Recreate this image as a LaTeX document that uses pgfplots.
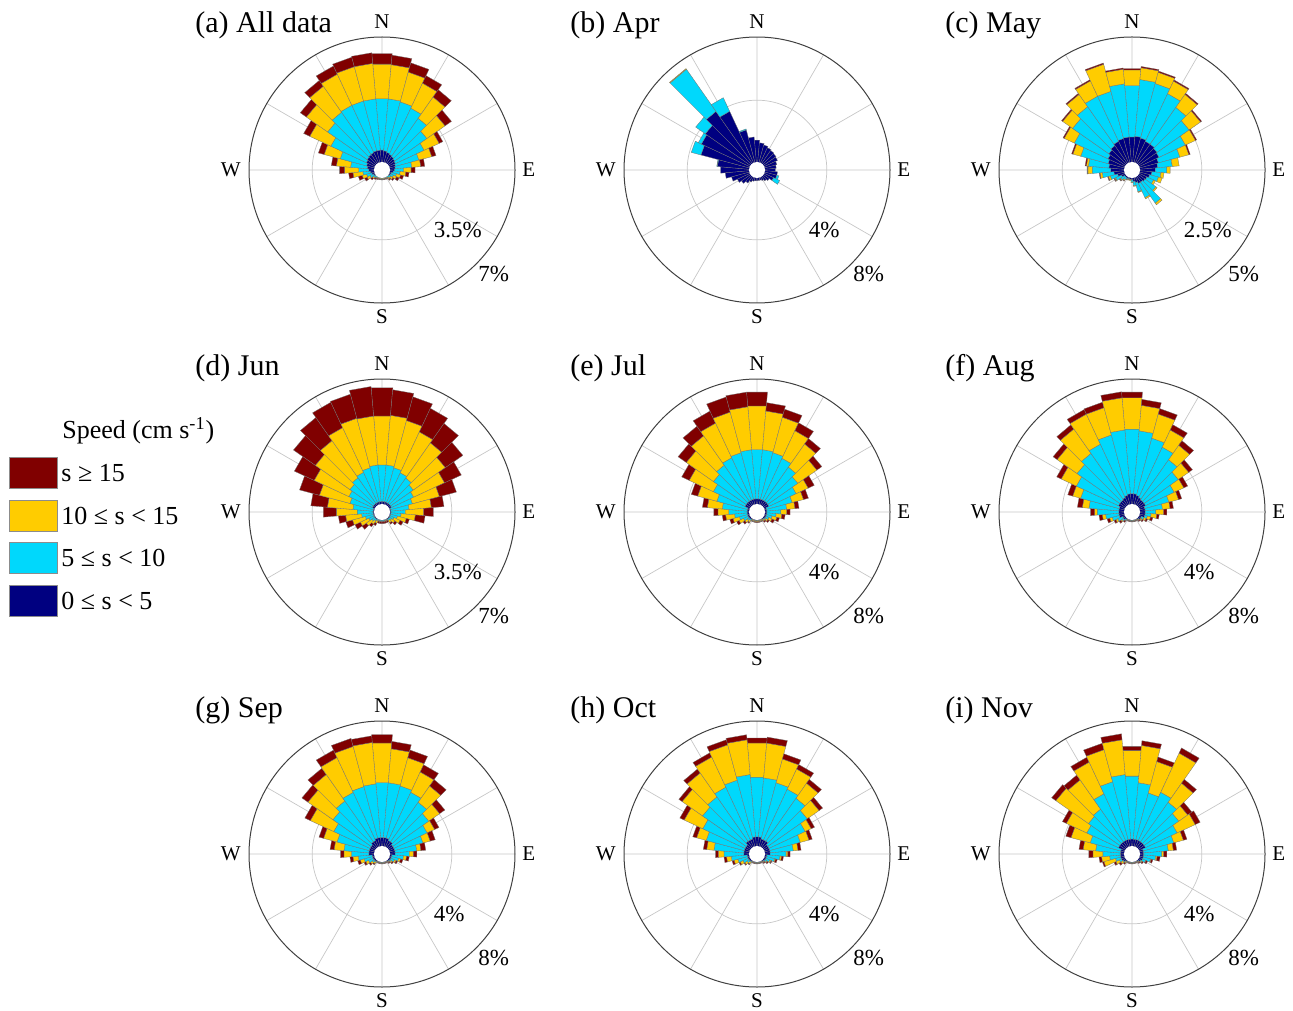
\documentclass[border=0pt]{standalone}
\usepackage{fontspec}
\setmainfont{Liberation Serif}
\usepackage{pgfplots}
\usepackage{pgfplotstable}
\pgfplotsset{compat=1.18}
\usepgfplotslibrary{polar}

\definecolor{cred}{RGB}{128,0,0}
\definecolor{cgold}{RGB}{255,204,0}
\definecolor{ccyan}{RGB}{0,216,252}
\definecolor{cnavy}{RGB}{0,0,128}

% columns: direction (deg from N, clockwise), cumulative % : n = 0-5, c = 5-10, g = 10-15, r = >=15
\pgfplotstableread{
d n c g r
0 0.74 3.59 5.52 6.11
10 0.70 3.59 5.49 6.02
20 0.64 3.54 5.25 5.78
30 0.59 3.41 4.94 5.40
40 0.55 3.13 4.57 5.06
50 0.50 2.67 3.90 4.33
60 0.46 2.21 3.13 3.35
70 0.41 1.75 2.49 2.73
80 0.37 1.29 1.79 2.01
90 0.33 0.83 1.25 1.47
100 0.26 0.64 0.96 1.14
110 0.18 0.46 0.70 0.87
120 0.15 0.33 0.52 0.68
130 0.10 0.24 0.37 0.46
140 0.08 0.18 0.26 0.33
150 0.07 0.12 0.16 0.20
160 0.07 0.11 0.15 0.18
170 0.07 0.11 0.15 0.18
180 0.07 0.11 0.15 0.18
190 0.07 0.11 0.15 0.18
200 0.07 0.11 0.15 0.19
210 0.07 0.12 0.16 0.22
220 0.08 0.15 0.20 0.28
230 0.10 0.22 0.30 0.41
240 0.15 0.37 0.55 0.70
250 0.22 0.52 0.77 0.99
260 0.29 0.70 1.25 1.49
270 0.37 0.92 1.71 1.99
280 0.46 1.38 2.17 2.45
290 0.52 2.03 2.95 3.28
300 0.59 2.76 4.05 4.42
310 0.64 3.31 4.75 5.16
320 0.68 3.54 5.30 5.69
330 0.70 3.59 5.49 5.99
340 0.74 3.59 5.56 6.10
350 0.74 3.59 5.56 6.15
}\tA

\pgfplotstableread{
d n c g r
0 1.47 1.47 1.47 1.47
10 1.31 1.31 1.31 1.31
20 1.22 1.22 1.22 1.22
30 1.14 1.14 1.14 1.14
40 1.09 1.09 1.09 1.09
50 1.05 1.05 1.05 1.05
60 1.01 1.01 1.01 1.01
70 0.88 0.88 0.88 0.88
80 0.80 0.80 0.80 0.80
90 0.74 0.74 0.74 0.74
100 0.88 0.88 0.88 0.88
110 0.88 1.01 1.01 1.01
120 0.74 1.16 1.16 1.16
130 0.53 0.53 0.53 0.53
140 0.42 0.42 0.42 0.42
150 0.32 0.32 0.32 0.32
160 0.25 0.25 0.25 0.25
170 0.25 0.25 0.25 0.25
180 0.25 0.25 0.25 0.25
190 0.27 0.27 0.27 0.27
200 0.32 0.32 0.32 0.32
210 0.42 0.42 0.42 0.42
220 0.59 0.59 0.59 0.59
230 0.78 0.78 0.78 0.78
240 0.95 0.95 0.95 0.95
250 1.25 1.25 1.25 1.25
260 1.60 1.60 1.60 1.60
270 1.89 1.89 1.89 1.89
280 2.10 2.14 2.14 2.14
290 3.26 3.89 3.89 3.89
300 3.47 3.68 3.68 3.68
310 3.58 4.32 4.32 4.32
320 4.11 7.37 7.42 7.42
330 3.68 4.63 4.63 4.63
340 2.21 2.27 2.27 2.27
350 1.68 1.68 1.68 1.68
}\tB

\pgfplotstableread{
d n c g r
0 1.05 3.09 3.71 3.76
10 1.08 3.33 3.80 3.85
20 1.05 3.28 3.74 3.79
30 0.99 3.07 3.62 3.67
40 0.99 2.76 3.39 3.44
50 0.95 2.50 3.05 3.10
60 0.92 2.07 2.51 2.56
70 0.82 1.70 2.07 2.12
80 0.76 1.34 1.61 1.61
90 0.66 1.12 1.25 1.25
100 0.53 0.89 1.01 1.01
110 0.46 0.82 0.97 0.97
120 0.39 0.68 0.76 0.76
130 0.37 0.89 0.95 0.95
140 0.33 1.34 1.42 1.42
150 0.33 0.95 1.00 1.00
160 0.26 0.63 0.66 0.66
170 0.20 0.37 0.39 0.39
180 0.13 0.21 0.24 0.24
190 0.11 0.13 0.16 0.16
200 0.11 0.13 0.16 0.16
210 0.11 0.16 0.18 0.18
220 0.11 0.21 0.26 0.28
230 0.11 0.29 0.33 0.36
240 0.20 0.46 0.50 0.53
250 0.33 0.63 0.71 0.74
260 0.46 0.92 1.01 1.04
270 0.59 1.32 1.49 1.52
280 0.66 1.47 1.55 1.60
290 0.72 1.84 2.16 2.21
300 0.79 2.26 2.70 2.75
310 0.86 2.61 3.09 3.14
320 0.92 2.80 3.39 3.44
330 0.99 2.96 3.63 3.68
340 1.03 2.96 4.07 4.12
350 1.05 3.16 3.74 3.79
}\tC

\pgfplotstableread{
d n c g r
0 0.22 2.25 4.97 6.54
10 0.22 2.25 5.01 6.43
20 0.22 2.17 4.88 6.24
30 0.22 2.03 4.53 5.97
40 0.22 1.93 4.31 5.62
50 0.22 1.75 3.92 5.10
60 0.22 1.57 3.46 4.48
70 0.13 1.38 2.93 3.90
80 0.13 1.14 2.38 3.08
90 0.13 0.92 1.95 2.49
100 0.13 0.70 1.49 2.03
110 0.13 0.52 1.03 1.20
120 0.13 0.37 0.74 0.92
130 0.13 0.28 0.50 0.64
140 0.13 0.22 0.37 0.46
150 0.10 0.15 0.18 0.28
160 0.10 0.15 0.18 0.28
170 0.10 0.15 0.18 0.28
180 0.10 0.15 0.18 0.28
190 0.10 0.15 0.18 0.28
200 0.10 0.15 0.18 0.28
210 0.10 0.18 0.33 0.46
220 0.13 0.24 0.46 0.64
230 0.13 0.33 0.70 0.99
240 0.13 0.44 0.96 1.29
250 0.13 0.59 1.33 1.71
260 0.13 0.77 1.66 2.06
270 0.13 1.01 2.17 2.89
280 0.13 1.25 2.67 3.59
290 0.13 1.47 3.22 4.36
300 0.22 1.66 3.78 4.99
310 0.22 1.80 4.14 5.62
320 0.22 1.95 4.46 6.02
330 0.22 2.06 4.79 6.34
340 0.22 2.17 5.01 6.39
350 0.22 2.25 4.97 6.61
}\tD

\pgfplotstableread{
d n c g r
0 0.42 3.54 6.32 7.20
10 0.42 3.54 6.00 6.53
20 0.42 3.47 5.79 6.32
30 0.42 3.33 5.26 5.81
40 0.42 3.05 4.84 5.26
50 0.42 2.74 4.21 4.59
60 0.42 2.32 3.16 3.58
70 0.21 1.89 2.63 2.95
80 0.21 1.47 2.00 2.25
90 0.21 1.09 1.47 1.68
100 0.21 0.80 1.16 1.37
110 0.21 0.57 0.88 1.05
120 0.21 0.42 0.63 0.80
130 0.21 0.29 0.42 0.53
140 0.15 0.21 0.29 0.38
150 0.12 0.15 0.21 0.25
160 0.12 0.15 0.21 0.25
170 0.12 0.15 0.21 0.25
180 0.12 0.15 0.21 0.25
190 0.12 0.15 0.21 0.25
200 0.12 0.15 0.21 0.25
210 0.12 0.15 0.21 0.25
220 0.15 0.25 0.38 0.46
230 0.21 0.34 0.53 0.67
240 0.21 0.53 0.84 1.01
250 0.21 0.74 1.16 1.37
260 0.21 1.01 1.58 1.79
270 0.21 1.37 2.06 2.32
280 0.21 1.79 2.74 3.05
290 0.21 2.21 3.47 3.89
300 0.42 2.63 4.32 4.84
310 0.42 2.95 5.05 5.68
320 0.42 3.20 5.47 6.21
330 0.42 3.37 5.79 6.63
340 0.42 3.47 6.13 7.12
350 0.42 3.54 6.27 7.20
}\tE

\pgfplotstableread{
d n c g r
0 0.74 4.84 6.84 7.20
10 0.74 4.74 6.36 6.74
20 0.67 4.42 6.00 6.36
30 0.59 4.11 5.31 5.68
40 0.53 3.62 4.74 5.09
50 0.53 3.16 3.96 4.25
60 0.53 2.53 3.20 3.47
70 0.42 2.00 2.63 2.84
80 0.42 1.52 2.00 2.21
90 0.42 1.09 1.58 1.79
100 0.42 0.80 1.16 1.31
110 0.42 0.59 0.80 0.95
120 0.25 0.42 0.57 0.67
130 0.25 0.29 0.38 0.46
140 0.15 0.21 0.25 0.32
150 0.12 0.15 0.17 0.21
160 0.12 0.15 0.17 0.21
170 0.12 0.15 0.17 0.21
180 0.12 0.15 0.17 0.21
190 0.12 0.15 0.17 0.21
200 0.12 0.15 0.17 0.21
210 0.12 0.15 0.17 0.21
220 0.15 0.25 0.29 0.38
230 0.25 0.38 0.46 0.59
240 0.25 0.59 0.72 0.84
250 0.42 0.88 1.05 1.22
260 0.42 1.26 1.47 1.68
270 0.42 1.79 1.96 2.21
280 0.42 2.32 2.74 3.05
290 0.42 2.95 3.47 3.79
300 0.53 3.47 4.53 4.84
310 0.53 3.83 5.37 5.68
320 0.53 4.11 6.00 6.32
330 0.59 4.32 6.42 6.74
340 0.67 4.63 6.42 6.78
350 0.74 4.80 6.84 7.22
}\tF

\pgfplotstableread{
d n c g r
0 0.63 4.11 6.63 7.16
10 0.63 4.11 6.27 6.74
20 0.63 4.04 5.89 6.40
30 0.53 3.89 5.31 5.81
40 0.53 3.58 4.84 5.33
50 0.42 3.20 4.04 4.44
60 0.42 2.74 3.26 3.56
70 0.42 2.27 2.74 3.07
80 0.42 1.79 2.06 2.36
90 0.42 1.31 1.58 1.79
100 0.21 0.95 1.14 1.31
110 0.21 0.67 0.80 0.95
120 0.21 0.46 0.57 0.67
130 0.21 0.29 0.38 0.46
140 0.15 0.21 0.25 0.32
150 0.12 0.15 0.17 0.21
160 0.12 0.15 0.17 0.21
170 0.12 0.15 0.17 0.21
180 0.12 0.15 0.17 0.21
190 0.12 0.15 0.17 0.21
200 0.12 0.15 0.17 0.21
210 0.12 0.15 0.17 0.21
220 0.15 0.23 0.34 0.42
230 0.21 0.34 0.48 0.59
240 0.21 0.53 0.72 0.84
250 0.21 0.76 1.01 1.18
260 0.21 1.09 1.43 1.62
270 0.42 1.52 2.00 2.21
280 0.42 2.00 2.63 2.88
290 0.42 2.53 3.41 3.71
300 0.42 2.95 4.59 4.97
310 0.42 3.37 5.31 5.77
320 0.53 3.68 5.73 6.21
330 0.53 3.89 6.32 6.84
340 0.63 4.00 6.63 7.16
350 0.63 4.04 6.67 7.09
}\tG

\pgfplotstableread{
d n c g r
0 0.67 4.46 6.63 6.95
10 0.67 4.42 6.63 7.01
20 0.57 4.25 5.81 6.15
30 0.57 4.11 5.52 5.83
40 0.57 3.89 5.05 5.35
50 0.42 3.47 4.38 4.65
60 0.42 2.95 3.37 3.60
70 0.42 2.42 2.99 3.20
80 0.42 1.89 2.19 2.38
90 0.42 1.43 1.54 1.68
100 0.21 1.05 1.14 1.26
110 0.21 0.74 0.80 0.91
120 0.21 0.48 0.57 0.63
130 0.21 0.32 0.38 0.46
140 0.15 0.21 0.25 0.32
150 0.12 0.15 0.17 0.21
160 0.12 0.15 0.17 0.21
170 0.12 0.15 0.17 0.21
180 0.12 0.15 0.17 0.21
190 0.12 0.15 0.17 0.21
200 0.12 0.15 0.17 0.21
210 0.12 0.15 0.17 0.21
220 0.15 0.23 0.36 0.42
230 0.21 0.36 0.53 0.59
240 0.21 0.57 0.76 0.84
250 0.21 0.84 1.09 1.22
260 0.21 1.22 1.52 1.68
270 0.42 1.68 2.04 2.21
280 0.42 2.32 2.78 2.99
290 0.42 2.91 3.54 3.79
300 0.42 3.37 4.67 4.97
310 0.42 3.79 5.37 5.62
320 0.57 4.00 5.85 6.15
330 0.57 4.25 6.36 6.65
340 0.57 4.42 6.74 7.07
350 0.67 4.63 6.84 7.16
}\tH

\pgfplotstableread{
d n c g r
0 0.53 4.53 6.15 6.42
10 0.53 4.11 6.48 6.78
20 0.53 3.58 5.64 5.94
30 0.53 3.89 6.63 6.99
40 0.53 3.58 5.05 5.35
50 0.53 3.20 3.89 4.21
60 0.53 2.74 4.00 4.34
70 0.32 2.32 2.95 3.18
80 0.32 1.89 2.21 2.42
90 0.32 1.47 1.58 1.79
100 0.32 1.09 1.18 1.37
110 0.32 0.80 0.85 0.95
120 0.32 0.53 0.57 0.67
130 0.25 0.32 0.38 0.46
140 0.15 0.21 0.25 0.32
150 0.12 0.15 0.17 0.21
160 0.12 0.15 0.17 0.21
170 0.12 0.15 0.17 0.21
180 0.12 0.15 0.17 0.21
190 0.12 0.15 0.17 0.21
200 0.12 0.15 0.17 0.21
210 0.12 0.15 0.17 0.21
220 0.15 0.21 0.29 0.38
230 0.25 0.32 0.46 0.59
240 0.32 0.46 0.72 0.84
250 0.32 0.67 1.43 1.52
260 0.32 1.01 1.52 1.68
270 0.32 1.43 2.06 2.32
280 0.32 1.89 2.69 2.95
290 0.32 2.32 3.58 3.92
300 0.53 2.74 4.17 4.44
310 0.53 2.95 5.47 5.79
320 0.53 3.05 5.31 5.68
330 0.53 3.79 6.00 6.34
340 0.53 4.32 6.42 6.84
350 0.53 4.63 6.84 7.22
}\tI

\tikzset{
  lab/.style={font=\fontsize{10.5}{12}\selectfont, inner sep=0pt},
  pct/.style={font=\fontsize{11.5}{13}\selectfont, inner sep=1pt, anchor=north west},
  ttl/.style={font=\fontsize{15}{18}\selectfont, inner sep=0pt, anchor=base west},
  legtxt/.style={font=\fontsize{13}{15}\selectfont, inner sep=0pt, anchor=base west},
  legbox/.style={draw=black!45, line width=0.3pt},
}
\pgfplotsset{
  rw/.style={draw=black!55, line width=0.15pt, forget plot},
  rose/.style={
    scale only axis, width=133pt, height=133pt, anchor=center,
    ymin=0, xtick={0,30,...,330}, xticklabels={}, yticklabels={},
    grid=major, major grid style={draw=black!22, line width=0.35pt},
    axis line style={draw=black!75, line width=0.5pt},
    y axis line style={draw=none},
    major tick length=0pt, clip=false,
  },
}

\newcommand{\rosewedge}[3]{%
  \pgfmathtruncatemacro{\wflag}{(#3-#2)>0.004}%
  \ifnum\wflag=1
    \edef\wtmp{\noexpand\addplot[rw,fill=#1] coordinates {(\aL,#2) (\aL,#3) (\aR,#3) (\aR,#2)} -- cycle;}%
    \wtmp
  \fi}

\newcommand{\drawrose}[2]{%
  \pgfplotsforeachungrouped \i in {0,1,...,35}{%
    \pgfplotstablegetelem{\i}{d}\of{#1}\let\rdir\pgfplotsretval
    \pgfplotstablegetelem{\i}{n}\of{#1}\let\rvn\pgfplotsretval
    \pgfplotstablegetelem{\i}{c}\of{#1}\let\rvc\pgfplotsretval
    \pgfplotstablegetelem{\i}{g}\of{#1}\let\rvg\pgfplotsretval
    \pgfplotstablegetelem{\i}{r}\of{#1}\let\rvr\pgfplotsretval
    \pgfmathsetmacro{\aL}{95-\rdir}%
    \pgfmathsetmacro{\aR}{85-\rdir}%
    \pgfmathsetmacro{\rz}{#2}%
    \pgfmathsetmacro{\rn}{#2+\rvn}%
    \pgfmathsetmacro{\rc}{#2+\rvc}%
    \pgfmathsetmacro{\rg}{#2+\rvg}%
    \pgfmathsetmacro{\rr}{#2+\rvr}%
    \rosewedge{cnavy}{\rz}{\rn}%
    \rosewedge{ccyan}{\rn}{\rc}%
    \rosewedge{cgold}{\rc}{\rg}%
    \rosewedge{cred}{\rg}{\rr}%
  }}

% #1 cx, #2 cy, #3 table, #4 ymax, #5 inner ring, #6 offset, #7 inner label, #8 outer label
\newcommand{\rosepanel}[8]{%
\begin{polaraxis}[rose, at={(#1,#2)}, ymax=#4, ytick={#5}]
  \drawrose{#3}{#6}
  \fill[white] (axis cs:0,0) circle[radius=4pt];
  \node[lab,anchor=south,yshift=4pt] at (axis cs:90,#4) {N};
  \node[lab,anchor=north,yshift=-3pt] at (axis cs:270,#4) {S};
  \node[lab,anchor=east,xshift=-4pt] at (axis cs:180,#4) {W};
  \node[lab,anchor=west,xshift=3.5pt] at (axis cs:0,#4) {E};
  \node[pct] at (axis cs:-45,#5) {#7};
  \node[pct] at (axis cs:-45,#4) {#8};
\end{polaraxis}}

\begin{document}
\begin{tikzpicture}
\path[use as bounding box] (0pt,0pt) rectangle (646.5pt,-505pt);

\rosepanel{191pt}{-85pt}{\tA}{7.368}{3.868}{0.368}{3.5\%}{7\%}
\rosepanel{378.5pt}{-85pt}{\tB}{8.421}{4.421}{0.421}{4\%}{8\%}
\rosepanel{566pt}{-85pt}{\tC}{5.263}{2.763}{0.263}{2.5\%}{5\%}

\rosepanel{191pt}{-256pt}{\tD}{7.368}{3.868}{0.368}{3.5\%}{7\%}
\rosepanel{378.5pt}{-256pt}{\tE}{8.421}{4.421}{0.421}{4\%}{8\%}
\rosepanel{566pt}{-256pt}{\tF}{8.421}{4.421}{0.421}{4\%}{8\%}

\rosepanel{191pt}{-427pt}{\tG}{8.421}{4.421}{0.421}{4\%}{8\%}
\rosepanel{378.5pt}{-427pt}{\tH}{8.421}{4.421}{0.421}{4\%}{8\%}
\rosepanel{566pt}{-427pt}{\tI}{8.421}{4.421}{0.421}{4\%}{8\%}

\node[ttl] at (97.5pt,-16.5pt) {(a) All data};
\node[ttl] at (285pt,-16.5pt) {(b) Apr};
\node[ttl] at (472.5pt,-16.5pt) {(c) May};
\node[ttl] at (97.5pt,-187.5pt) {(d) Jun};
\node[ttl] at (285pt,-187.5pt) {(e) Jul};
\node[ttl] at (472.5pt,-187.5pt) {(f) Aug};
\node[ttl] at (97.5pt,-358.5pt) {(g) Sep};
\node[ttl] at (285pt,-358.5pt) {(h) Oct};
\node[ttl] at (472.5pt,-358.5pt) {(i) Nov};

% legend
\node[legtxt] at (31pt,-219pt) {Speed (cm s\textsuperscript{-1})};
\fill[cred, legbox] (4.5pt,-228.5pt) rectangle (28.5pt,-244pt);
\fill[cgold, legbox] (4.5pt,-250pt) rectangle (28.5pt,-265.5pt);
\fill[ccyan, legbox] (4.5pt,-271.25pt) rectangle (28.5pt,-286.75pt);
\fill[cnavy, legbox] (4.5pt,-292.5pt) rectangle (28.5pt,-308pt);
\node[legtxt] at (30.5pt,-240.85pt) {s ≥ 15};
\node[legtxt] at (30.5pt,-262.1pt) {10 ≤ s < 15};
\node[legtxt] at (30.5pt,-283.35pt) {5 ≤ s < 10};
\node[legtxt] at (30.5pt,-304.6pt) {0 ≤ s < 5};
\end{tikzpicture}
\end{document}
